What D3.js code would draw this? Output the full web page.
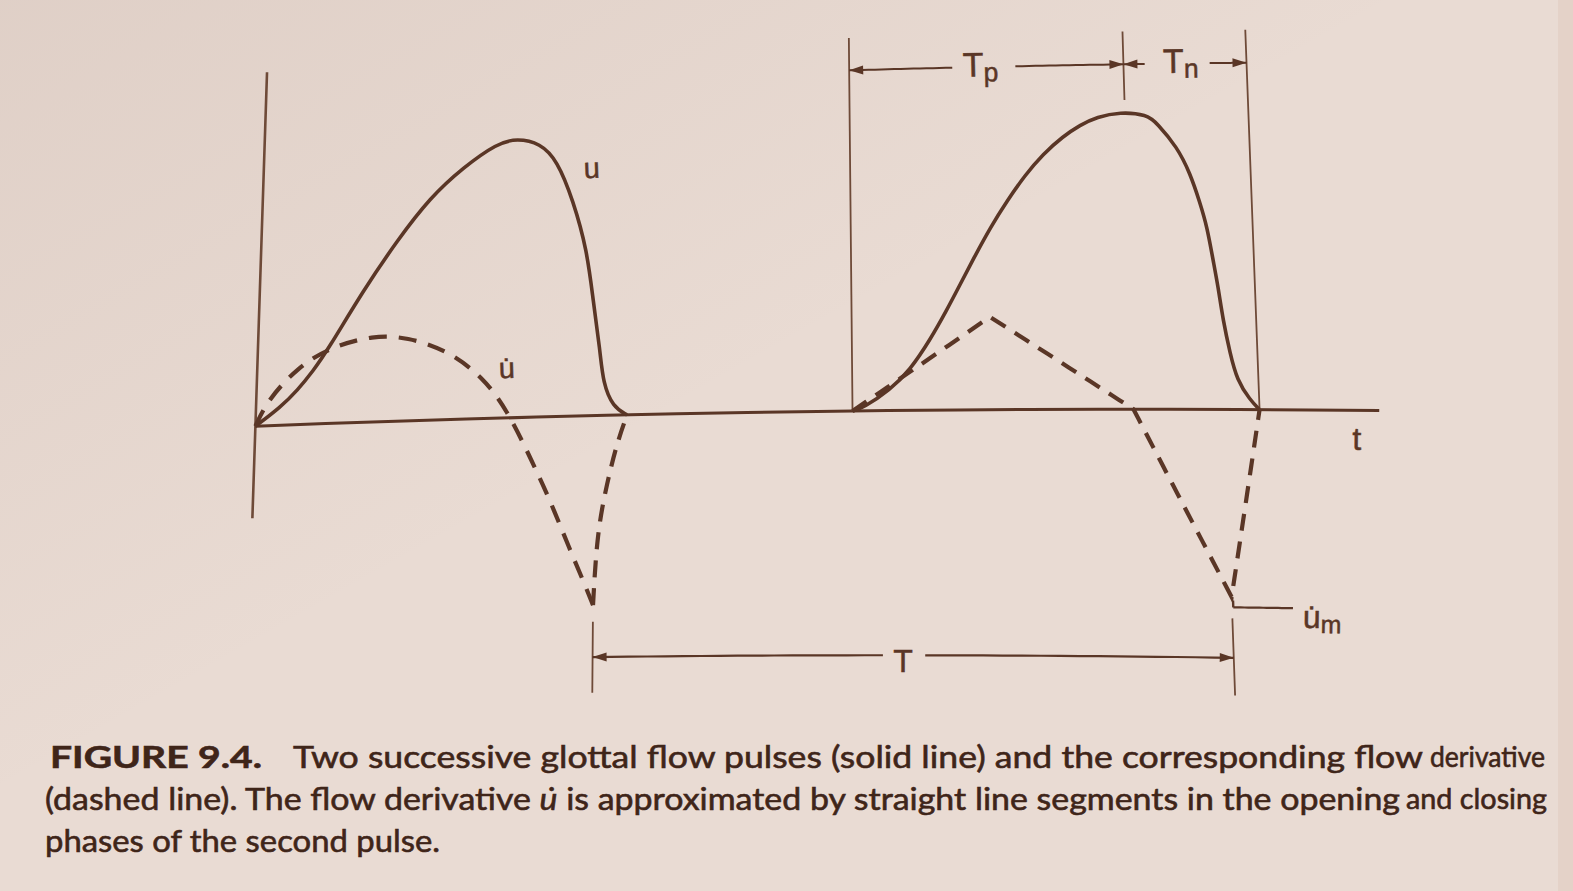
<!DOCTYPE html>
<html>
<head>
<meta charset="utf-8">
<script src="https://cdn.jsdelivr.net/npm/d3@7"></script>
<style>
  html, body { margin: 0; padding: 0; background: #e9dbd3; overflow: hidden; }
  svg { display: block; }
</style>
</head>
<body>
<svg id="chart" width="1573" height="891"></svg>
<script>
// ---------------- DATA (time in ms, amplitude in arbitrary units; 2nd pulse peak = 1) ----------------
// glottal flow u, first pulse (solid)
const pulse1Flow = [[0,0],[0.383,0.063],[0.641,0.120],[0.882,0.187],[1.093,0.255],[1.635,0.460],
  [2.153,0.629],[2.662,0.774],[3.177,0.873],[3.712,0.952],[4.029,0.966],[4.396,0.946],[4.670,0.885],
  [4.930,0.745],[5.159,0.571],[5.261,0.398],[5.377,0.225],[5.428,0.111],[5.587,0.028],[5.807,0]];
// flow derivative, first pulse (dashed) – opening part down to the minimum
const pulse1Deriv = [[0,0],[0.176,0.089],[0.630,0.200],[1.139,0.266],[1.809,0.302],[2.344,0.291],
  [2.977,0.241],[3.548,0.143],[3.931,0.027],[4.300,-0.138],[4.619,-0.288],[4.937,-0.462],
  [5.142,-0.566],[5.300,-0.653]];
// flow derivative, first pulse – return from the minimum
const pulse1DerivReturn = [[5.300,-0.653],[5.353,-0.405],[5.502,-0.233],[5.653,-0.096],[5.807,0]];
// glottal flow u, second pulse (solid)
const pulse2Flow = [[9.33,0],[9.494,0.0095],[9.920,0.070],[10.237,0.137],[10.557,0.238],[10.831,0.340],
  [11.045,0.425],[11.259,0.510],[11.55,0.620],[11.812,0.705],[12.10,0.790],[12.40,0.862],[12.723,0.920],
  [13.0,0.958],[13.273,0.984],[13.642,1.0],
  [14.072,0.990],[14.227,0.961],[14.535,0.880],[14.728,0.792],[14.87,0.692],[14.969,0.611],[15.045,0.500],
  [15.11,0.410],[15.169,0.299],[15.26,0.189],[15.355,0.098],[15.547,0.032],[15.69,0]];
// flow derivative, second pulse: straight-line approximation
const pulse2Deriv = [[9.33,0],[11.506,0.314],[13.72,0],[15.15,-0.628],[15.69,0]];

// event times (ms)
const tOpen2 = 9.33, tPeak2 = 13.72, tClose2 = 15.69;
const tMin1 = 5.30, tMin2 = 15.15;
const derivMin2 = -0.628;
const tAxisEnd = 17.56;

// label texts
const labelFlow = "u";
const labelDeriv = "u\u0307";
const labelTime = "t";
const labelPeriod = "T";
const labelTp = ["T", "p"];
const labelTn = ["T", "n"];
const labelDerivMin = ["u\u0307", "m"];

// caption
const captionBold = "FIGURE 9.4.";
const caption1 = "Two successive glottal flow pulses (solid line) and the corresponding flow";
const caption1end = "derivative";
const caption2a = "(dashed line). The flow derivative ";
const caption2u = "u\u0307";
const caption2b = " is approximated by straight line segments in the opening";
const caption2end = "and closing";
const caption3 = "phases of the second pulse.";

// ---------------- DRAWING ----------------
const ink = "#5a3626";
const inkLight = "#6e4a38";
const svg = d3.select("#chart");
const defs = svg.append("defs");
const grad = defs.append("linearGradient").attr("id", "shade")
  .attr("x1", "0").attr("y1", "0").attr("x2", "1").attr("y2", "1");
grad.append("stop").attr("offset", "0").attr("stop-color", "#8a6a5c").attr("stop-opacity", 0.10);
grad.append("stop").attr("offset", "0.45").attr("stop-color", "#8a6a5c").attr("stop-opacity", 0.0);
svg.append("rect").attr("width", 1573).attr("height", 891).attr("fill", "#e9dbd3");
svg.append("rect").attr("width", 1573).attr("height", 891).attr("fill", "url(#shade)");
svg.append("rect").attr("x", 1558).attr("width", 15).attr("height", 891).attr("fill", "#e4d2c8");

const x = d3.scaleLinear().domain([0, 10]).range([255.4, 895.4]);
const y = d3.scaleLinear().domain([0, 1]).range([411, 117.4]);

// mild page warp of the photographed book page
function warp(px, py) {
  const u = px - 850;
  const B = -0.0125 + 4.5e-5 * (py - 411);
  const lean = -0.032 + 7e-5 * (px - 255);
  return [px + lean * (py - 411), py + B * u + 2.2e-5 * u * u];
}
const P = d => warp(x(d[0]), y(d[1]));
function densify(pts, n) {
  const out = [];
  for (let i = 0; i < pts.length - 1; i++) {
    for (let k = 0; k < n; k++) {
      const f = k / n;
      out.push([pts[i][0] + (pts[i+1][0] - pts[i][0]) * f, pts[i][1] + (pts[i+1][1] - pts[i][1]) * f]);
    }
  }
  out.push(pts[pts.length - 1]);
  return out;
}
const smooth = d3.line().curve(d3.curveBasis);
const straight = d3.line();

const g = svg.append("g");

function seg(p1, p2, width, opts = {}) {
  const path = g.append("path")
    .attr("d", straight(densify([p1, p2], 16).map(P)))
    .attr("fill", "none").attr("stroke", opts.color || ink)
    .attr("stroke-width", width);
  if (opts.dash) path.attr("stroke-dasharray", opts.dash);
  return path;
}
function arrow(tipT, tipA, dir) {
  const tip = P([tipT, tipA]);
  const back = P([tipT - dir * 0.3, tipA]);
  const dx = back[0] - tip[0], dy = back[1] - tip[1];
  const L = Math.hypot(dx, dy), ux = dx / L, uy = dy / L;
  const len = 14, hw = 4.5;
  const bx = tip[0] + ux * len, by = tip[1] + uy * len;
  g.append("path")
    .attr("d", `M${tip[0]},${tip[1]}L${bx - uy * hw},${by + ux * hw}L${bx + uy * hw},${by - ux * hw}Z`)
    .attr("fill", ink);
}
function angleAt(t, a) {
  const p1 = P([t, a]), p2 = P([t + 0.2, a]);
  return Math.atan2(p2[1] - p1[1], p2[0] - p1[0]) * 180 / Math.PI;
}
function label(t, a, parts, anchor, size) {
  const p = P([t, a]);
  const txt = g.append("text")
    .attr("x", p[0]).attr("y", p[1])
    .attr("text-anchor", anchor)
    .attr("font-family", "'Liberation Sans', Arial, sans-serif")
    .attr("font-size", size).attr("fill", ink)
    .attr("stroke", ink).attr("stroke-width", 0.5)
    .attr("transform", `rotate(${angleAt(t, a)},${p[0]},${p[1]})`);
  if (typeof parts === "string") txt.text(parts);
  else {
    txt.append("tspan").text(parts[0]);
    txt.append("tspan").attr("font-size", size * 0.78).attr("dy", 5).text(parts[1]);
  }
}

// axes
seg([0, -0.322], [0, 1.239], 2.6, { color: inkLight });
seg([0, 0], [tAxisEnd, 0], 3, { color: ink });

// dimension lines (Tp, Tn)
const dimTop = 1.27, dimLevel = 1.16;
seg([tOpen2, 0], [tOpen2, dimTop], 1.8, { color: inkLight });
seg([tPeak2, 1.04], [tPeak2, dimTop], 1.8, { color: inkLight });
seg([tClose2, 0], [tClose2, dimTop], 1.8, { color: inkLight });
seg([tOpen2, dimLevel], [10.98, dimLevel], 2);
seg([11.99, dimLevel], [tPeak2, dimLevel], 2);
seg([tPeak2, dimLevel], [14.06, dimLevel], 2);
seg([15.10, dimLevel], [tClose2, dimLevel], 2);
arrow(tOpen2, dimLevel, -1);
arrow(tPeak2, dimLevel, 1);
arrow(tPeak2, dimLevel, -1);
arrow(tClose2, dimLevel, 1);

// period T
const perLevel = -0.832;
seg([tMin1, -0.71], [tMin1, -0.955], 1.8, { color: inkLight });
seg([tMin2, -0.70], [tMin2, -0.958], 1.8, { color: inkLight });
seg([tMin1, perLevel], [9.76, perLevel], 2.2);
seg([10.41, perLevel], [tMin2, perLevel], 2.2);
arrow(tMin1, perLevel, -1);
arrow(tMin2, perLevel, 1);

// u-dot_m leader
seg([tMin2 + 0.02, derivMin2 - 0.012], [tMin2 + 0.02, -0.663], 2.4);
seg([tMin2 + 0.02, -0.663], [16.09, -0.663], 2.2);

// curves
g.append("path").attr("d", smooth(pulse1Flow.map(P)))
  .attr("fill", "none").attr("stroke", ink).attr("stroke-width", 3.6);
g.append("path").attr("d", smooth(pulse2Flow.map(P)))
  .attr("fill", "none").attr("stroke", ink).attr("stroke-width", 3.6);
g.append("path").attr("d", smooth(pulse1Deriv.map(P)))
  .attr("fill", "none").attr("stroke", ink).attr("stroke-width", 4.2).attr("stroke-dasharray", "18,12");
g.append("path").attr("d", smooth(pulse1DerivReturn.map(P)))
  .attr("fill", "none").attr("stroke", ink).attr("stroke-width", 4.2).attr("stroke-dasharray", "17,11");
g.append("path").attr("d", straight(densify(pulse2Deriv, 20).map(P)))
  .attr("fill", "none").attr("stroke", ink).attr("stroke-width", 4.2).attr("stroke-dasharray", "17,11");

// labels
label(5.228, 0.819, labelFlow, "middle", 29);
label(3.923, 0.138, labelDeriv, "middle", 29);
label(17.18, -0.132, labelTime, "middle", 32);
label(11.148, 1.128, labelTp, "start", 34);
label(14.35, 1.129, labelTn, "start", 34);
label(10.064, -0.889, labelPeriod, "middle", 32);
label(16.23, -0.728, labelDerivMin, "start", 32);

// caption
const capInk = "#3f2519";
const cap = svg.append("g").attr("fill", capInk).attr("stroke", capInk).attr("stroke-width", 0.6)
  .attr("font-family", "Lato, 'Open Sans', sans-serif");
function capText(str, x0, x1, base, size, opts = {}) {
  const t = cap.append("text").attr("x", x0).attr("y", base)
    .attr("font-size", size)
    .attr("textLength", x1 - x0).attr("lengthAdjust", "spacingAndGlyphs")
    .text(str);
  if (opts.bold) t.attr("font-weight", 700);
  return t;
}
capText(captionBold, 50, 262, 768, 31, { bold: true });
capText(caption1, 293, 1423, 768, 31);
capText(caption1end, 1430, 1545, 767, 28);
const l2 = cap.append("text").attr("x", 45).attr("y", 810).attr("font-size", 31)
  .attr("textLength", 1400 - 45).attr("lengthAdjust", "spacingAndGlyphs");
l2.append("tspan").text(caption2a);
l2.append("tspan").attr("font-style", "italic").text(caption2u);
l2.append("tspan").text(caption2b);
capText(caption2end, 1406, 1547, 809, 29);
capText(caption3, 45, 440, 852, 31);
</script>
</body>
</html>
